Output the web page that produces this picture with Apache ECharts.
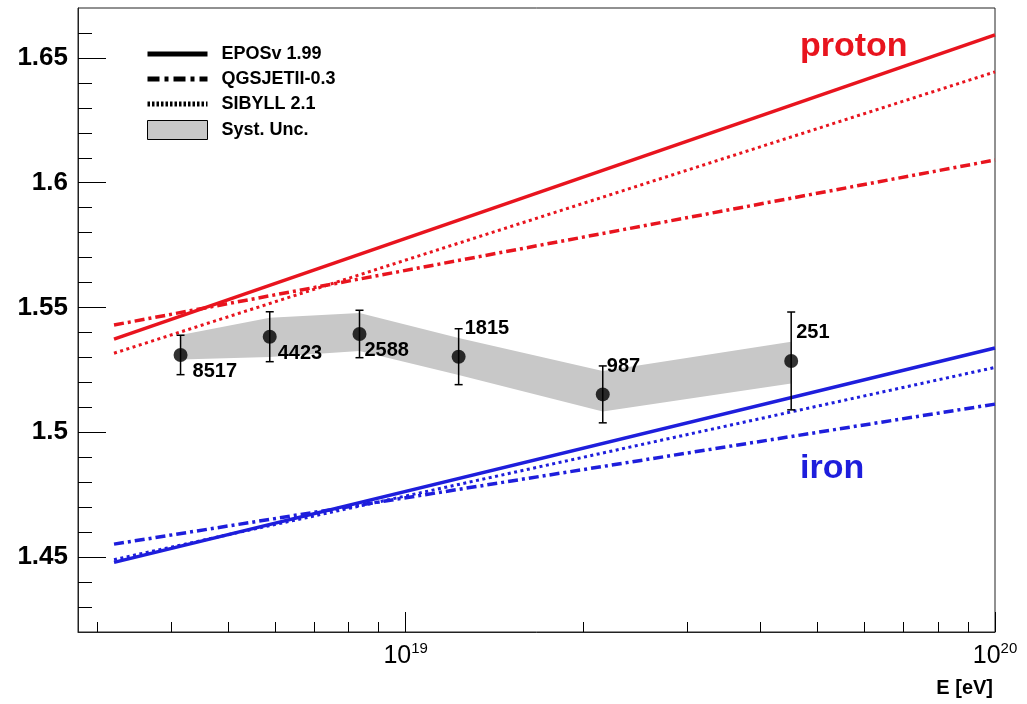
<!DOCTYPE html>
<html><head><meta charset="utf-8">
<script src="https://cdn.jsdelivr.net/npm/echarts@6/dist/echarts.min.js"></script>
<style>html,body{margin:0;padding:0;background:#fff}#c{width:1027px;height:704px}</style>
</head><body><div id="c"></div>
<script>
// ---------------- data ----------------
const energies     = [4.15e18, 5.88e18, 8.35e18, 1.23e19, 2.16e19, 4.51e19];   // E [eV]
const xmaxMeans    = [1.5310, 1.5383, 1.5394, 1.5303, 1.5152, 1.5286];
const statErr      = [0.0079, 0.0100, 0.0095, 0.0112, 0.0114, 0.0196];
const eventCounts  = [8517, 4423, 2588, 1815, 987, 251];
const systUpper    = [1.5390, 1.5459, 1.5478, 1.5378, 1.5246, 1.5363];
const systLower    = [1.5292, 1.5302, 1.5326, 1.5230, 1.5083, 1.5196];

const modelEnergies = [3.2e18, 1e20];
const eposProton    = [1.5373, 1.6592];
const qgsjetProton  = [1.5430, 1.6091];
const sibyllProton  = [1.5317, 1.6444];
const eposIron      = [1.4479, 1.5338];
const qgsjetIron    = [1.4552, 1.5113];
const sibyllIron    = [1.4490, 1.5260];

const xRange        = [2.78e18, 1e20];
const xMajorTicks   = [1e19, 1e20];
const xMajorExp     = ['19', '20'];
const xMinorTicks   = [3e18, 4e18, 5e18, 6e18, 7e18, 8e18, 9e18, 2e19, 3e19, 4e19, 5e19, 6e19, 7e19, 8e19, 9e19];
const yRange        = [1.42, 1.67];
const yMajorTicks   = [1.45, 1.5, 1.55, 1.6, 1.65];
const yTickLabels   = ['1.45', '1.5', '1.55', '1.6', '1.65'];
const yMinorTicks   = [1.43, 1.44, 1.46, 1.47, 1.48, 1.49, 1.51, 1.52, 1.53, 1.54, 1.56, 1.57, 1.58, 1.59, 1.61, 1.62, 1.63, 1.64, 1.66];
const modelNames    = ['EPOSv 1.99', 'QGSJETII-0.3', 'SIBYLL 2.1'];

// ---------------- styles ----------------
const L = Math.log10;
const RED = '#e8141e', BLUE = '#1e1edc', GRAY = '#c8c8c8';
const FONT = '"Liberation Sans", Arial, Helvetica, sans-serif';
const DASHDOT = [10, 4, 3, 4], DOTTED = [3, 3.5];
const LEG_DASHDOT = [12, 5, 4, 5], LEG_DOTTED = [2.5, 2];
const labelOffsets = [[12, 17], [8, 17], [5, 17], [6, -28], [4, -28], [5, -28]];

function modelSeries(vals, color, type, width) {
  return {
    type: 'line', data: modelEnergies.map((e, i) => [L(e), vals[i]]),
    symbol: 'none', silent: true, z: 3,
    lineStyle: { color: color, width: width, type: type }
  };
}

const hiddenSymbol = { opacity: 0 };
const chart = echarts.init(document.getElementById('c'));
const option = {
  animation: false,
  backgroundColor: '#fff',
  grid: { left: 78, right: 32, top: 8, bottom: 72, show: true, borderColor: '#222', borderWidth: 1 },
  legend: {
    left: 140, top: 40, orient: 'vertical', itemWidth: 60, itemHeight: 19, itemGap: 7,
    selectedMode: false,
    lineStyle: { width: 5 },
    textStyle: { fontFamily: FONT, fontWeight: 'bold', fontSize: 18, color: '#000', padding: [0, 0, 0, 9] },
    data: [
      { name: modelNames[0], itemStyle: hiddenSymbol, lineStyle: { width: 5, color: '#000', type: 'solid' } },
      { name: modelNames[1], itemStyle: hiddenSymbol, lineStyle: { width: 5, color: '#000', type: LEG_DASHDOT } },
      { name: modelNames[2], itemStyle: hiddenSymbol, lineStyle: { width: 5, color: '#000', type: LEG_DOTTED } },
      { name: 'Syst. Unc.', icon: 'rect', itemStyle: { color: GRAY, borderColor: '#000', borderWidth: 1 } }
    ]
  },
  xAxis: [
    {
      type: 'value', min: L(xRange[0]), max: L(xRange[1]), position: 'bottom',
      axisLine: { show: true, onZero: false, lineStyle: { color: '#222', width: 1 } },
      axisTick: { show: true, inside: true, length: 20, customValues: xMajorTicks.map(L), lineStyle: { color: '#000' } },
      axisLabel: {
        customValues: xMajorTicks.map(L), margin: 9, showMaxLabel: true,
        formatter: function (v) {
          const i = xMajorTicks.findIndex(t => Math.abs(L(t) - v) < 1e-6);
          return '{b|10}{s|' + (i >= 0 ? xMajorExp[i] : '') + '}';
        },
        rich: {
          b: { fontFamily: FONT, fontSize: 25, color: '#000', lineHeight: 28, verticalAlign: 'bottom' },
          s: { fontFamily: FONT, fontSize: 15, color: '#000', lineHeight: 15, verticalAlign: 'top' }
        }
      },
      splitLine: { show: false },
      name: 'E [eV]', nameLocation: 'end', nameGap: -2,
      nameTextStyle: { fontFamily: FONT, fontWeight: 'bold', fontSize: 20, color: '#000', align: 'right', verticalAlign: 'top', padding: [46, 0, 0, 0] }
    },
    {
      type: 'value', min: L(xRange[0]), max: L(xRange[1]), position: 'bottom', offset: 0,
      axisLine: { show: false, onZero: false },
      axisTick: { show: true, inside: true, length: 10, customValues: xMinorTicks.map(L), lineStyle: { color: '#000' } },
      axisLabel: { show: false }, splitLine: { show: false }
    }
  ],
  yAxis: [
    {
      type: 'value', min: yRange[0], max: yRange[1], position: 'left',
      axisLine: { show: true, onZero: false, lineStyle: { color: '#222', width: 1 } },
      axisTick: { show: true, inside: true, length: 28, customValues: yMajorTicks, lineStyle: { color: '#000' } },
      axisLabel: {
        customValues: yMajorTicks, margin: 10,
        formatter: function (v) {
          const i = yMajorTicks.findIndex(t => Math.abs(t - v) < 1e-6);
          return i >= 0 ? yTickLabels[i] : '';
        },
        fontFamily: FONT, fontWeight: 'bold', fontSize: 26, color: '#000'
      },
      splitLine: { show: false }
    },
    {
      type: 'value', min: yRange[0], max: yRange[1], position: 'left', offset: 0,
      axisLine: { show: false, onZero: false },
      axisTick: { show: true, inside: true, length: 14, customValues: yMinorTicks, lineStyle: { color: '#000' } },
      axisLabel: { show: false }, splitLine: { show: false }
    }
  ],
  graphic: [
    { type: 'text', left: 800, top: 30, style: { text: 'proton', fill: RED, font: 'bold 34px ' + FONT } },
    { type: 'text', left: 800, top: 452, style: { text: 'iron', fill: BLUE, font: 'bold 34px ' + FONT } }
  ],
  series: [
    // systematic band
    {
      type: 'custom', name: 'Syst. Unc.', silent: true, z: 1,
      itemStyle: { color: GRAY },
      data: [[L(energies[0]), xmaxMeans[0]]],
      renderItem: function (params, api) {
        const up = energies.map((e, i) => api.coord([L(e), systUpper[i]]));
        const lo = energies.map((e, i) => api.coord([L(e), systLower[i]])).reverse();
        return { type: 'polygon', shape: { points: up.concat(lo) }, style: { fill: GRAY } };
      }
    },
    // models: proton
    modelSeries(eposProton, RED, 'solid', 3.5),
    modelSeries(qgsjetProton, RED, DASHDOT, 3.5),
    modelSeries(sibyllProton, RED, DOTTED, 3),
    // models: iron
    modelSeries(eposIron, BLUE, 'solid', 3.5),
    modelSeries(qgsjetIron, BLUE, DASHDOT, 3.5),
    modelSeries(sibyllIron, BLUE, DOTTED, 3),
    // legend-only black entries
    { type: 'line', name: modelNames[0], data: [], symbol: 'none', lineStyle: { color: '#000', width: 5, type: 'solid' }, itemStyle: { color: '#000' } },
    { type: 'line', name: modelNames[1], data: [], symbol: 'none', lineStyle: { color: '#000', width: 5, type: LEG_DASHDOT }, itemStyle: { color: '#000' } },
    { type: 'line', name: modelNames[2], data: [], symbol: 'none', lineStyle: { color: '#000', width: 5, type: LEG_DOTTED }, itemStyle: { color: '#000' } },
    // error bars + counts
    {
      type: 'custom', silent: true, z: 4,
      data: energies.map((e, i) => [L(e), xmaxMeans[i]]),
      renderItem: function (params, api) {
        const i = params.dataIndex;
        const x = api.value(0), y = api.value(1), e = statErr[i];
        const p = api.coord([x, y]), t = api.coord([x, y + e]), b = api.coord([x, y - e]);
        const cap = 4, off = labelOffsets[i];
        const st = { stroke: '#000', lineWidth: 1.5 };
        return {
          type: 'group', children: [
            { type: 'line', shape: { x1: p[0], y1: t[1], x2: p[0], y2: b[1] }, style: st },
            { type: 'line', shape: { x1: p[0] - cap, y1: t[1], x2: p[0] + cap, y2: t[1] }, style: st },
            { type: 'line', shape: { x1: p[0] - cap, y1: b[1], x2: p[0] + cap, y2: b[1] }, style: st },
            { type: 'text', style: { text: String(eventCounts[i]), x: p[0] + off[0], y: p[1] + off[1], align: 'left', verticalAlign: 'middle', fill: '#000', font: 'bold 20px ' + FONT } }
          ]
        };
      }
    },
    // points
    {
      type: 'scatter', silent: true, z: 5, symbol: 'circle', symbolSize: 14,
      itemStyle: { color: '#000' },
      data: energies.map((e, i) => [L(e), xmaxMeans[i]])
    }
  ]
};
chart.setOption(option);
</script>
</body></html>
